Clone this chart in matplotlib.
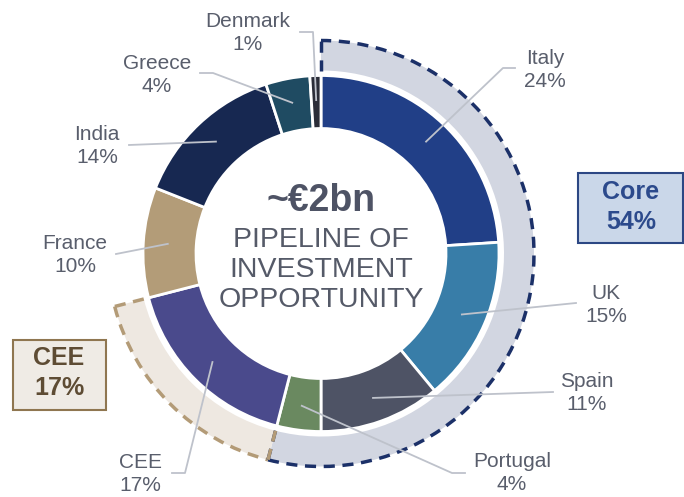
import numpy as np
import matplotlib
matplotlib.use('Agg')
import matplotlib.pyplot as plt
from matplotlib.patches import Arc, Rectangle

plt.rcParams['font.family'] = ['Liberation Sans', 'DejaVu Sans']

# data
countries = ['Italy', 'UK', 'Spain', 'Portugal', 'CEE', 'France', 'India', 'Greece', 'Denmark']
shares = [24, 15, 11, 4, 17, 10, 14, 4, 1]
groups = ['Core', 'CEE']
group_shares = [54, 17]

colors = ['#213F87', '#387DA8', '#4E5365', '#6A8960', '#4A4A8C',
          '#B39C78', '#172851', '#1F4B62', '#2B2D38']
group_fill = ['#D2D6E1', '#EEE8E1']
group_edge = ['#1B3068', '#B39B77']

# layout (pixel coords, y measured from top)
W, H = 684, 497
cx, cy = 321, 253.5
r_out, r_in = 178, 125
ring_out, ring_in = 213, 183

# leader line bends and label centres
label_layout = {
    'Italy':    ([(503, 68), (515, 68)], (545, 70)),
    'UK':       ([(576, 303)], (606, 305)),
    'Spain':    ([(553, 392)], (587, 393)),
    'Portugal': ([(452, 473), (465, 473)], (512, 473)),
    'CEE':      ([(185, 473), (172, 473)], (140, 474)),
    'France':   ([(116, 254)], (75, 255)),
    'India':    ([(129, 145)], (97, 146)),
    'Greece':   ([(213, 73), (200, 73)], (157, 75)),
    'Denmark':  ([(313, 32), (300, 32)], (248, 33)),
}

fig = plt.figure(figsize=(W / 100, H / 100), dpi=100)
ax = fig.add_axes([0, 0, 1, 1])

def py(y):
    return H - y

center = (cx, py(cy))

# outer group ring
rest = 100 - sum(group_shares)
ax.pie(group_shares + [rest], colors=group_fill + ['none'], radius=ring_out,
       center=center, startangle=90, counterclock=False,
       wedgeprops=dict(width=ring_out - ring_in, edgecolor='none', linewidth=0))

# dashed outline: outer arc + radial ends
dash = (0, (3.2, 2.2))
start = 0
for share, ec in zip(group_shares, group_edge):
    a0 = 90 - start * 3.6
    a1 = 90 - (start + share) * 3.6
    ax.add_patch(Arc(center, 2 * ring_out, 2 * ring_out, theta1=a1, theta2=a0,
                     color=ec, lw=2.5, linestyle=dash))
    for a in (a0, a1):
        t = np.deg2rad(a)
        ax.plot([cx + ring_in * np.cos(t), cx + ring_out * np.cos(t)],
                [py(cy) + ring_in * np.sin(t), py(cy) + ring_out * np.sin(t)],
                color=ec, lw=2.5, linestyle=dash, solid_capstyle='butt')
    start += share

# main donut
ax.pie(shares, colors=colors, radius=r_out, center=center, startangle=90,
       counterclock=False,
       wedgeprops=dict(width=r_out - r_in, edgecolor='white', linewidth=2))

# leaders and labels
label_color = '#595E6C'
cum = np.cumsum([0] + shares)
r_mid = (r_out + r_in) / 2 + 2
for i, name in enumerate(countries):
    mid = (cum[i] + cum[i + 1]) / 2 * 3.6
    t = np.deg2rad(90 - mid)
    pts = [(cx + r_mid * np.cos(t), py(cy) + r_mid * np.sin(t))]
    bends, (tx, ty) = label_layout[name]
    pts += [(x, py(y)) for x, y in bends]
    xs, ys = zip(*pts)
    ax.plot(xs, ys, color='#BEC2CB', lw=1.3, zorder=5)
    ax.text(tx, py(ty), f'{name}\n{shares[i]}%', ha='center', va='center',
            fontsize=15, color=label_color, linespacing=1.25)

# centre text
ax.text(cx, py(201), '~€2bn', ha='center', va='center', fontsize=27,
        fontweight='bold', color='#4E5365')
for y, line in zip([240, 270, 300], ['PIPELINE OF', 'INVESTMENT', 'OPPORTUNITY']):
    ax.text(cx, py(y), line, ha='center', va='center', fontsize=20.5, color='#555A68')

# group boxes
ax.add_patch(Rectangle((578, py(243)), 105, 70, facecolor='#CAD7E9',
                       edgecolor='#2C4784', lw=1.5))
ax.text(631, py(207), f'{groups[0]}\n{group_shares[0]}%', ha='center', va='center',
        fontsize=18, fontweight='bold', color='#2C4A8C', linespacing=1.35)
ax.add_patch(Rectangle((13, py(410)), 93, 70, facecolor='#EFEBE5',
                       edgecolor='#8F7650', lw=1.5))
ax.text(59, py(373), f'{groups[1]}\n{group_shares[1]}%', ha='center', va='center',
        fontsize=18, fontweight='bold', color='#5E4C34', linespacing=1.35)

ax.set_xlim(0, W)
ax.set_ylim(0, H)
ax.set_aspect('equal')
ax.axis('off')

fig.savefig('out.png', dpi=100)
